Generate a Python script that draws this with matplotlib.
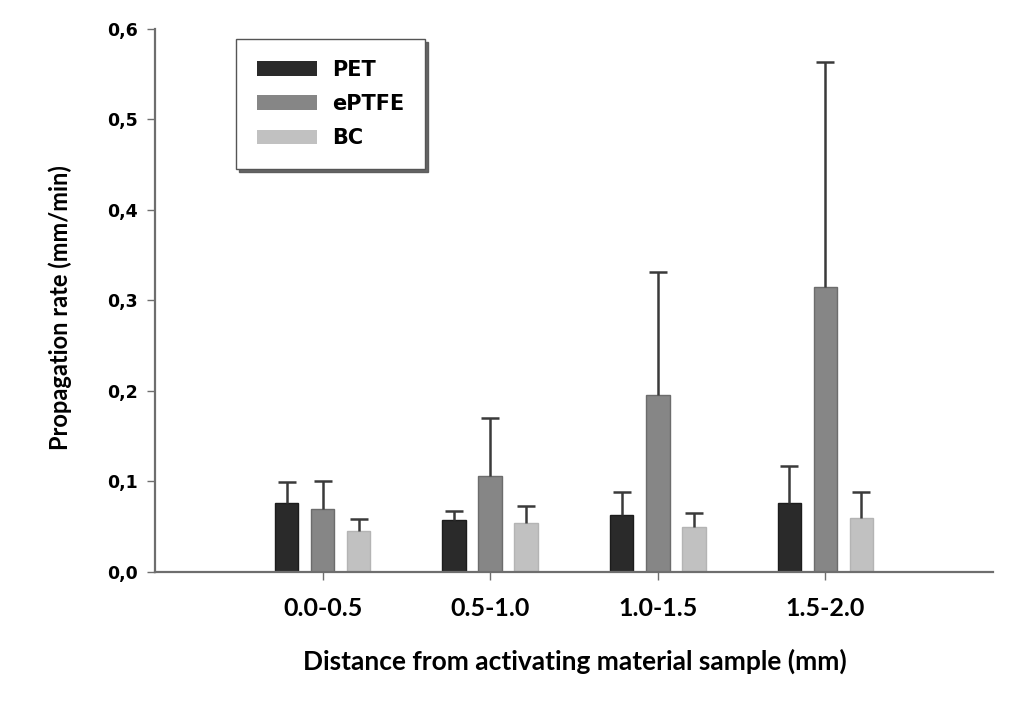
import matplotlib
matplotlib.use("Agg")
import matplotlib.pyplot as plt
import numpy as np

# Propagation rate per distance band, mean and (upper) SD per material
distances = ["0.0-0.5", "0.5-1.0", "1.0-1.5", "1.5-2.0"]
materials = ["PET", "ePTFE", "BC"]
pet_mean = [0.076, 0.057, 0.063, 0.076]
pet_sd = [0.023, 0.010, 0.025, 0.041]
eptfe_mean = [0.070, 0.106, 0.195, 0.315]
eptfe_sd = [0.031, 0.064, 0.136, 0.249]
bc_mean = [0.045, 0.054, 0.050, 0.060]
bc_sd = [0.014, 0.019, 0.015, 0.028]
yticks = [0.0, 0.1, 0.2, 0.3, 0.4, 0.5, 0.6]
ytick_labels = ["0,0", "0,1", "0,2", "0,3", "0,4", "0,5", "0,6"]

series = [
    (pet_mean, pet_sd, "#2a2a2a", "#1c1c1c"),
    (eptfe_mean, eptfe_sd, "#868686", "#6c6c6c"),
    (bc_mean, bc_sd, "#c1c1c1", "#b4b4b4"),
]

fig = plt.figure(figsize=(10.11, 7.13), dpi=100)
ax = fig.add_axes([0.1533, 0.1978, 0.8289, 0.7616])

x = np.arange(len(distances))
width = 0.14
offsets = [-0.215, 0.0, 0.215]
axis_grey = "#6e6e6e"

handles = []
for name, (mean, sd, color, edge), off in zip(materials, series, offsets):
    cont = ax.bar(x + off, mean, width, color=color, edgecolor=edge, linewidth=1.0,
                  label=name, zorder=2,
                  yerr=[np.zeros(len(sd)), sd],
                  error_kw=dict(ecolor="#3a3a3a", elinewidth=1.8, capsize=6.5,
                                capthick=1.8, zorder=3))
    # only the upper whisker is shown
    caplines = cont.errorbar.lines[1]
    caplines[0].set_visible(False)
    handles.append(cont)

ax.set_xlim(-1.0, 4.0)
ax.set_ylim(0, 0.6)
ax.set_xticks(x)
ax.set_xticklabels(distances, fontfamily="Lato", fontweight="bold", fontsize=18)
ax.set_yticks(yticks)
ax.set_yticklabels(ytick_labels, fontfamily="DejaVu Sans", fontweight="bold", fontsize=12.5)

for side in ["top", "right"]:
    ax.spines[side].set_visible(False)
for side in ["left", "bottom"]:
    ax.spines[side].set_color(axis_grey)
    ax.spines[side].set_linewidth(1.6)
ax.tick_params(axis="y", direction="out", length=5.5, width=1.0, color=axis_grey, pad=7)
ax.tick_params(axis="x", direction="out", length=6, width=1.0, color=axis_grey, pad=12)

ax.set_xlabel("Distance from activating material sample (mm)", fontfamily="Lato",
              fontweight="bold", fontsize=19)
ax.xaxis.set_label_coords(0.5006, -0.141)
ax.set_ylabel("Propagation rate (mm/min)", fontfamily="Lato", fontweight="bold", fontsize=17)
ax.yaxis.set_label_coords(-0.099, 0.487)

leg = ax.legend(handles=handles, labels=materials, loc="upper left",
                bbox_to_anchor=((236 - 155) / 838, (572 - 39) / 543),
                prop=dict(family="DejaVu Sans", weight="bold", size=15),
                handlelength=2.9, handleheight=0.7, handletextpad=0.7,
                labelspacing=0.68, borderpad=1.0, borderaxespad=0,
                fancybox=False, shadow={"color": "#555555", "alpha": 0.9},
                framealpha=1.0, edgecolor="#555555")
leg.get_frame().set_linewidth(1.0)
for h in leg.legend_handles:
    h.set_edgecolor("none")

fig.savefig("out.png", dpi=100, facecolor="white")
